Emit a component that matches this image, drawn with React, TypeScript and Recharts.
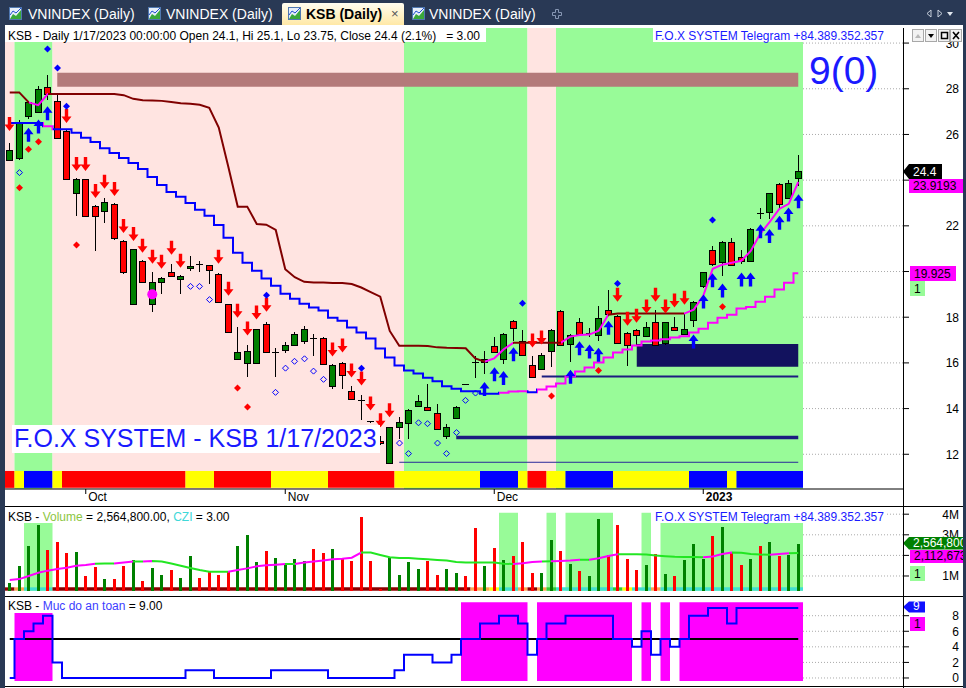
import React from "react";
import {
  ComposedChart,
  Bar,
  Line,
  XAxis,
  YAxis,
  ReferenceArea,
  ReferenceLine,
  ReferenceDot,
} from "recharts";

const FONT = "'Liberation Sans', Arial, sans-serif";

// KSB daily, 21 Sep 2022 .. 17 Jan 2023 (84 sessions)
const opens = [
  24.87, 24.96, 26.8, 26.98, 28.07, 27.46, 26.15, 23.45, 24.04, 22.87,
  22.65, 22.96, 21.34, 18.58, 20.47, 18.58, 19.52, 19.99, 19.67, 20.15,
  20.34, 20.28, 19.89, 18.58, 16.18, 15.99, 15.99, 17.71, 16.42, 16.57,
  16.79, 16.98, 17.1, 17.1, 14.98, 16.0, 14.76, 14.38, 13.45, 12.6,
  11.64, 13.19, 13.38, 14.11, 14.07, 13.82, 12.79, 13.6, 15.07, 16.03,
  16.03, 16.72, 16.18, 17.85, 16.98, 15.89, 15.74, 16.54, 18.29, 16.83,
  17.81, 17.29, 17.2, 18.32, 18.07, 17.3, 17.45, 17.17, 17.78, 16.86,
  17.56, 17.27, 17.88, 19.35, 20.94, 20.41, 21.3, 20.62, 20.44, 22.55,
  22.62, 23.82, 23.24, 24.1,
];
const highs = [
  25.64, 26.62, 27.45, 28.11, 28.59, 27.75, 26.2, 24.1, 24.06, 22.9,
  23.24, 23.0, 21.4, 21.0, 20.5, 19.96, 19.75, 20.33, 19.85, 20.69,
  20.47, 20.3, 19.95, 18.6, 17.59, 16.8, 17.5, 17.81, 16.66, 16.9,
  17.35, 17.63, 17.27, 17.12, 15.95, 16.05, 14.97, 14.58, 13.47, 12.8,
  13.2, 13.63, 13.98, 14.58, 15.06, 14.21, 13.34, 14.1, 15.09, 16.32,
  16.54, 17.12, 17.3, 17.87, 17.45, 16.32, 16.42, 17.5, 18.3, 17.25,
  17.97, 17.53, 18.51, 19.19, 18.1, 17.35, 17.5, 17.78, 18.32, 17.8,
  18.0, 18.17, 18.7, 20.0, 21.13, 21.35, 21.46, 20.95, 21.9, 22.8,
  23.45, 23.89, 24.0, 25.1,
];
const lows = [
  24.85, 24.9, 26.66, 26.95, 27.53, 25.8, 24.0, 22.44, 22.4, 20.88,
  22.14, 21.4, 19.9, 18.55, 19.5, 18.21, 19.02, 19.75, 19.02, 20.03,
  20.0, 19.45, 18.65, 17.35, 16.15, 15.38, 15.95, 16.45, 15.38, 16.45,
  16.75, 16.83, 16.32, 15.9, 14.87, 14.87, 14.4, 13.48, 13.38, 12.4,
  11.6, 12.69, 12.69, 14.05, 13.93, 13.1, 12.69, 13.58, 15.04, 15.35,
  15.52, 16.45, 15.96, 16.98, 16.3, 15.35, 15.72, 15.84, 16.78, 16.03,
  17.25, 17.12, 16.98, 18.1, 16.85, 15.86, 16.8, 17.15, 16.75, 16.8,
  17.43, 17.25, 17.59, 19.3, 20.25, 19.82, 20.25, 20.33, 20.4, 22.29,
  22.29, 22.8, 23.2, 23.75,
];
const closes = [
  25.32, 26.55, 27.43, 28.0, 27.75, 25.86, 24.04, 24.04, 22.44, 22.44,
  23.06, 21.46, 19.96, 20.98, 19.52, 19.52, 19.71, 19.79, 19.82, 20.25,
  20.32, 20.07, 18.68, 17.37, 16.47, 16.5, 17.49, 16.47, 16.49, 16.79,
  17.27, 17.49, 17.08, 15.93, 15.92, 15.49, 14.43, 14.36, 13.41, 12.5,
  13.19, 13.4, 13.95, 14.33, 13.95, 13.12, 13.19, 14.07, 15.05, 16.01,
  16.18, 16.47, 17.27, 17.53, 16.35, 15.38, 16.35, 17.45, 16.8, 17.2,
  17.27, 17.31, 17.97, 18.14, 16.88, 16.79, 17.23, 17.56, 16.79, 17.78,
  17.45, 17.49, 18.65, 19.96, 20.35, 21.31, 20.28, 20.44, 21.85, 22.52,
  23.43, 22.95, 23.86, 24.4,
];
// volume, millions of shares
const volumes = [
  0.68, 1.49, 2.47, 3.48, 2.26, 2.65, 2.1, 2.17, 1.0, 1.44,
  0.85, 0.85, 1.49, 1.78, 0.76, 1.39, 1.05, 1.29, 0.9, 1.97,
  0.9, 1.19, 1.05, 1.19, 2.46, 2.99, 1.68, 2.21, 1.87, 1.58,
  1.82, 1.73, 2.31, 2.12, 2.31, 1.82, 1.73, 3.86, 1.73, 0.36,
  1.92, 1.05, 1.68, 1.34, 1.73, 1.05, 1.34, 1.15, 1.0, 3.33,
  1.49, 2.38, 1.78, 1.97, 2.65, 1.16, 1.16, 2.75, 2.21, 1.58,
  1.24, 1.0, 3.77, 2.02, 3.48, 1.82, 1.29, 1.53, 2.08, 1.1,
  1.0, 1.78, 2.55, 1.82, 2.94, 3.38, 2.15, 1.53, 1.82, 2.46,
  2.65, 1.97, 2.02, 2.5648,
];
const volumeMA = [
  0.81, 0.85, 1.0, 1.16, 1.26, 1.34, 1.4, 1.5, 1.53, 1.6,
  1.61, 1.61, 1.65, 1.7, 1.7, 1.73, 1.7, 1.61, 1.5, 1.39,
  1.29, 1.21, 1.21, 1.21, 1.29, 1.37, 1.47, 1.52, 1.55, 1.58,
  1.58, 1.65, 1.7, 1.75, 1.81, 1.84, 1.89, 2.14, 2.14, 2.02,
  1.91, 1.87, 1.87, 1.84, 1.81, 1.78, 1.75, 1.68, 1.66, 1.65,
  1.66, 1.66, 1.6, 1.58, 1.62, 1.68, 1.7, 1.71, 1.73, 1.75,
  1.79, 1.79, 1.86, 1.97, 2.05, 2.06, 2.05, 2.04, 2.0, 1.96,
  1.93, 1.92, 1.92, 1.91, 1.95, 2.07, 2.14, 2.13, 2.07, 2.04,
  2.03, 2.07, 2.1, 2.1127,
];
// trailing stop lines
const upperStop = [
  27.84, 27.84, 27.4, 27.28, 27.77, 27.77, 27.77, 27.77, 27.77, 27.77,
  27.77, 27.77, 27.72, 27.56, 27.5, 27.49, 27.47, 27.42, 27.37, 27.34,
  27.3, 27.17, 26.3, 24.6, 22.84, 22.84, 22.08, 22.05, 21.82, 20.1,
  19.75, 19.55, 19.52, 19.52, 19.5, 19.5, 19.45, 19.3, 19.1, 18.9,
  17.4, 16.75, 16.75, 16.75, 16.74, 16.68, 16.66, 16.65, 16.64, 16.2,
  16.05, 16.2, 16.6, 16.88, 16.88, 16.88, 16.88, 16.88, 16.88, 17.15,
  17.22, 17.24, 17.41, 18.11, 18.16, 18.16, 18.16, 18.16, 18.16, 18.16,
  18.16, 18.16, 18.33, 18.94, 20.12, 20.3, 20.38, 20.47, 20.9, 21.65,
  22.17, 22.74, 22.96, 23.9193,
];
const lowerStop = [
  26.5, 26.5, 26.5, 26.5, 26.36, 26.23, 26.23, 26.07, 25.86, 25.67,
  25.4, 25.19, 24.97, 24.75, 24.49, 24.14, 23.79, 23.48, 23.27, 23.0,
  22.7, 22.44, 22.04, 21.48, 20.82, 20.38, 20.03, 19.69, 19.38, 19.03,
  18.81, 18.59, 18.42, 18.29, 17.98, 17.85, 17.55, 17.33, 17.07, 16.63,
  16.24, 15.89, 15.67, 15.54, 15.35, 15.2, 14.98, 14.87, 14.76, 14.76,
  14.65, 14.65, 14.69, 14.75, 14.76, 14.72, 14.84, 14.97, 15.1, 15.41,
  15.62, 15.8, 16.02, 16.24, 16.45, 16.59, 16.76, 16.94, 16.98, 17.04,
  17.11, 17.17, 17.33, 17.5, 17.76, 17.98, 18.11, 18.38, 18.45, 18.68,
  18.9, 19.21, 19.51, 19.925,
];
// "Muc do an toan" (safety level)
const safety = [
  0, 5, 6, 7, 8, 2, 0, 0, 0, 0,
  0, 0, 0, 0, 0, 0, 0, 0, 0, 1,
  1, 1, 0, 0, 0, 0, 0, 0, 1, 1,
  1, 1, 1, 1, 0, 0, 0, 0, 0, 0,
  0, 1, 3, 3, 3, 2, 2, 3, 5, 5,
  7, 7, 8, 8, 7, 3, 5, 7, 7, 8,
  8, 8, 8, 8, 5, 5, 4, 6, 3, 5,
  4, 5, 8, 8, 9, 9, 7, 9, 9, 9,
  9, 9, 9, 9,
];
const SAFETY_LEVEL = 5;

// signals: [bar index, price]
const sellArrows: [number, number][] = [
  [0, 26.15], [6, 26.5], [7, 24.4], [8, 24.4], [9, 23.22], [10, 23.62], [11, 23.31],
  [12, 21.69], [13, 21.34], [14, 20.82], [15, 20.34], [16, 20.12], [17, 20.73],
  [18, 20.17], [22, 20.34], [23, 18.94], [24, 17.98], [25, 17.2], [26, 17.9],
  [27, 18.24], [34, 16.28], [35, 16.45], [36, 15.36], [37, 15.01], [38, 13.92],
  [39, 13.18], [40, 13.62], [55, 16.67], [56, 16.8], [64, 18.68], [65, 17.63],
  [66, 17.76], [67, 18.16], [68, 18.68], [69, 18.16], [70, 18.42], [71, 18.55],
];
const buyArrows: [number, number][] = [
  [2, 26.29], [3, 26.66], [4, 27.24], [50, 15.16], [51, 15.81], [52, 15.64],
  [53, 16.69], [59, 15.7], [60, 16.95], [61, 16.8], [62, 16.66], [63, 17.85],
  [72, 17.24], [73, 18.99], [74, 19.92], [75, 19.48], [77, 19.96], [78, 19.96],
  [79, 22.07], [80, 21.86], [81, 22.44], [82, 22.8], [83, 23.38],
];
const redDiamonds: [number, number][] = [
  [1, 23.67], [2, 25.35], [3, 25.68], [7, 21.16], [24, 14.9], [25, 14.07],
  [57, 14.55], [62, 15.67], [75, 18.46],
];
const blueDiamonds: [number, number][] = [
  [4, 29.74], [5, 28.91], [6, 27.24], [27, 18.96], [37, 15.77], [54, 18.61],
  [64, 19.48], [74, 22.26],
];
const hollowDiamonds: [number, number][] = [
  [1, 24.33], [19, 19.35], [20, 19.35], [21, 18.77], [28, 14.71], [29, 15.77],
  [30, 16.07], [31, 16.18], [32, 15.64], [33, 15.28], [41, 12.49], [42, 12.03],
  [43, 13.38], [44, 13.34], [45, 12.49], [46, 12.03], [47, 12.95], [48, 14.36],
  [49, 14.68],
];
const magentaDots: [number, number][] = [[15, 19.0]];

// bar runs [from, to, code]
const backgroundRuns: [number, number, string][] = [
  [0, 0, "P"], [1, 4, "G"], [5, 41, "P"], [42, 54, "G"], [55, 57, "P"], [58, 83, "G"],
];
const trendStripRuns: [number, number, string][] = [
  [0, 0, "R"], [1, 1, "Y"], [2, 4, "B"], [5, 5, "Y"], [6, 18, "R"], [19, 21, "Y"],
  [22, 27, "R"], [28, 33, "Y"], [34, 40, "R"], [41, 49, "Y"], [50, 53, "B"],
  [54, 54, "Y"], [55, 56, "R"], [57, 58, "Y"], [59, 63, "B"], [64, 71, "Y"],
  [72, 75, "B"], [76, 76, "Y"], [77, 83, "B"],
];
const upperColorRuns: [number, number, string][] = [
  [0, 2, "M"], [3, 4, "P"], [5, 50, "M"], [51, 53, "P"], [54, 58, "M"],
  [59, 63, "P"], [64, 71, "M"], [72, 83, "P"],
];
const lowerColorRuns: [number, number, string][] = [
  [0, 3, "B"], [4, 4, "P"], [5, 51, "B"], [52, 54, "P"], [55, 55, "B"], [56, 83, "P"],
];
const volumeZoneRuns: [number, number][] = [
  [2, 4], [52, 53], [57, 57], [59, 63], [67, 67], [69, 83],
];
const volumeStripRuns: [number, number, string][] = [
  [0, 0, "D"], [1, 1, "O"], [2, 4, "C"], [5, 48, "D"], [49, 50, "O"], [51, 51, "Y"],
  [52, 53, "C"], [54, 54, "O"], [55, 55, "D"], [56, 56, "O"], [57, 57, "G"],
  [58, 63, "C"], [64, 64, "G"], [65, 65, "Y"], [66, 67, "C"], [68, 68, "O"],
  [69, 83, "C"],
];

// resistance band, support box and support levels
const bandFrom = 5;
const bandLevels: [number, number] = [28.09, 28.7];
const boxFrom = 66;
const boxLevels: [number, number] = [15.83, 16.83];
const supportStarts = [56, 47, 41];
const supportLevels = [15.4, 12.73, 11.65];

const monthTicks = [8, 29, 51, 73];
const monthLabels = ["Oct", "Nov", "Dec", "2023"];
const priceTicks = [12, 14, 16, 18, 20, 22, 24, 26, 28, 30];
const volumeTicks = [1, 2, 3, 4];
const safetyTicks = [0, 2, 4, 6, 8];
// tick labels sitting under the value tags on the right
const coveredPrice = [20, 24];
const coveredVolume = [2];

const C: Record<string, string> = {
  P: "#ffe4e1",
  G: "#98fb98",
  R: "#ff0000",
  Y: "#ffff00",
  B: "#0000ff",
};
const LINE_C: Record<string, string> = { M: "#800000", P: "#ff00ff", B: "#0000ff" };
const VSTRIP_C: Record<string, string> = {
  D: "#8b0000",
  O: "#ffa54f",
  C: "#40e0d0",
  Y: "#ffff00",
  G: "#32cd32",
};
const BLUE_TEXT = "#1a1aff";

// layout
const CHART_W = 958;
const AXIS_W = 60;
const PLOT_W = CHART_W - AXIS_W;
const BAR_STEP = 9.5;
const X_MIN = -0.5;
const X_MAX = X_MIN + PLOT_W / BAR_STEP;
const MAIN_DOMAIN: [number, number] = [10.48, 30.66];
const VOL_DOMAIN: [number, number] = [0.029, 4.398];
const SAFE_DOMAIN: [number, number] = [-1.03, 10.53];
const VOL_FLOOR = 0.286;

const N = opens.length;
const LAST = N - 1;

function expand(runs: [number, number, string][]): string[] {
  const out: string[] = new Array(N).fill("");
  runs.forEach(([a, b, c]) => {
    for (let k = a; k <= b; k++) out[k] = c;
  });
  return out;
}

function runsOf(flags: boolean[]): [number, number][] {
  const out: [number, number][] = [];
  let start = -1;
  flags.forEach((f, k) => {
    if (f && start < 0) start = k;
    if (!f && start >= 0) {
      out.push([start, k - 1]);
      start = -1;
    }
  });
  if (start >= 0) out.push([start, flags.length - 1]);
  return out;
}

type Span = [number, number, string];
function stops(spans: Span[]) {
  return spans.flatMap(([a, b, c], k) => [
    <stop key={`a${k}`} offset={a / LAST} stopColor={c} />,
    <stop key={`b${k}`} offset={b / LAST} stopColor={c} />,
  ]);
}

const upperColors = expand(upperColorRuns);
const lowerColors = expand(lowerColorRuns);
const upperSpans: Span[] = upperColors
  .slice(1)
  .map((c, k) => [k, k + 1, LINE_C[c]] as Span);
const lowerSpans: Span[] = lowerColors.map(
  (c, k) => [Math.max(0, k - 0.5), Math.min(LAST, k + 0.5), LINE_C[c]] as Span
);
const maSpans: Span[] = volumeMA
  .slice(1)
  .map(
    (v, k) =>
      [k, k + 1, v - volumeMA[k] > 0.015 ? "#ff00ff" : "#22e622"] as Span
  );

type Row = {
  i: number;
  open: number;
  high: number;
  low: number;
  close: number;
  hl: [number, number];
  upper: number;
  lower: number;
  vol: [number, number];
  volMA: number;
  up: boolean;
  safety: number;
  level: number;
  sell: number | null;
  buy: number | null;
  redD: number | null;
  blueD: number | null;
  ring: number | null;
};

const rows: Row[] = opens.map((o, i) => ({
  i,
  open: o,
  high: highs[i],
  low: lows[i],
  close: closes[i],
  hl: [lows[i], highs[i]],
  upper: upperStop[i],
  lower: lowerStop[i],
  vol: [VOL_FLOOR, volumes[i]],
  volMA: volumeMA[i],
  up: closes[i] >= opens[i],
  safety: safety[i],
  level: SAFETY_LEVEL,
  sell: null,
  buy: null,
  redD: null,
  blueD: null,
  ring: null,
}));
sellArrows.forEach(([i, v]) => (rows[i].sell = v));
buyArrows.forEach(([i, v]) => (rows[i].buy = v));
redDiamonds.forEach(([i, v]) => (rows[i].redD = v));
blueDiamonds.forEach(([i, v]) => (rows[i].blueD = v));
hollowDiamonds.forEach(([i, v]) => (rows[i].ring = v));

const safeZones = runsOf(safety.map((v) => v >= SAFETY_LEVEL));

// ---------- shapes ----------
function Candle(props: any) {
  const { x, y, width, height, payload, index } = props;
  if (y == null || height == null) return <g key={`c${index}`} />;
  const { open, close, high, low } = payload as Row;
  const k = height / (high - low);
  const cx = Math.floor(x + width / 2) + 0.5;
  const yO = y + (high - open) * k;
  const yC = y + (high - close) * k;
  const top = Math.round(Math.min(yO, yC)) + 0.5;
  const bot = Math.round(Math.max(yO, yC)) + 0.5;
  return (
    <g key={`c${index}`} shapeRendering="crispEdges">
      <line x1={cx} x2={cx} y1={Math.round(y)} y2={Math.round(y + height)} stroke="#000" />
      {bot - top < 1.5 ? (
        <line x1={cx - 3.5} x2={cx + 3.5} y1={top} y2={top} stroke="#000" />
      ) : (
        <rect
          x={cx - 3}
          y={top}
          width={6}
          height={bot - top}
          fill={close >= open ? "#008000" : "#ff0000"}
          stroke="#000"
        />
      )}
    </g>
  );
}

function VolumeBar(props: any) {
  const { x, y, width, height, payload, index } = props;
  if (y == null || height == null) return <g key={`v${index}`} />;
  const cx = Math.floor(x + width / 2);
  return (
    <rect
      key={`v${index}`}
      x={cx - 1}
      y={y}
      width={3}
      height={height}
      fill={(payload as Row).up ? "#008000" : "#ff0000"}
      shapeRendering="crispEdges"
    />
  );
}

function marker(kind: string) {
  return (p: any) => {
    const { cx, cy, value, index } = p;
    const key = `${kind}${index}`;
    if (value == null || cy == null || cx == null) return <g key={key} />;
    const x = Math.floor(cx) + 0.5;
    if (kind === "sell")
      return (
        <path
          key={key}
          d={`M${x} ${cy} L${x - 5} ${cy - 6.5} L${x - 1.7} ${cy - 6.5} L${x - 1.7} ${cy - 14} L${x + 1.7} ${cy - 14} L${x + 1.7} ${cy - 6.5} L${x + 5} ${cy - 6.5} Z`}
          fill="#ff0000"
        />
      );
    if (kind === "buy")
      return (
        <path
          key={key}
          d={`M${x} ${cy} L${x - 5} ${cy + 6.5} L${x - 1.7} ${cy + 6.5} L${x - 1.7} ${cy + 14} L${x + 1.7} ${cy + 14} L${x + 1.7} ${cy + 6.5} L${x + 5} ${cy + 6.5} Z`}
          fill="#0000ff"
        />
      );
    const r = kind === "ring" ? 3 : 3.5;
    return (
      <path
        key={key}
        d={`M${x} ${cy - r} L${x + r} ${cy} L${x} ${cy + r} L${x - r} ${cy} Z`}
        fill={kind === "ring" ? "none" : kind === "redD" ? "#ff0000" : "#0000ff"}
        stroke={kind === "ring" ? "#0000ff" : "none"}
        strokeWidth={1}
      />
    );
  };
}

const tickText = (label: (v: number) => string, covered: number[] = []) => (p: any) => (
  <text
    x={954}
    y={p.y}
    dy={4.5}
    textAnchor="end"
    fontSize={12}
    fontFamily={FONT}
    fill="#000"
  >
    {covered.includes(p.payload.value) ? "" : label(p.payload.value)}
  </text>
);

function MonthTick(p: any) {
  const k = monthTicks.indexOf(p.payload.value);
  return (
    <text
      x={p.x + 2.5}
      y={473}
      fontSize={12}
      fontFamily={FONT}
      fontWeight={k === 3 ? "bold" : "normal"}
      fill="#000"
    >
      {monthLabels[k]}
    </text>
  );
}

const dottedGrid = (ticks: number[]) =>
  ticks.map((t) => (
    <ReferenceLine
      key={`g${t}`}
      segment={[
        { x: LAST + 0.5, y: t },
        { x: X_MAX, y: t },
      ]}
      stroke="#aaaaaa"
      strokeDasharray="1 2"
      ifOverflow="hidden"
    />
  ));

const ZERO = { top: 0, right: 0, bottom: 0, left: 0 };

function MainPane() {
  return (
    <ComposedChart width={CHART_W} height={478} data={rows} margin={ZERO}>
      <defs>
        <linearGradient id="upperGrad" x1="0" y1="0" x2="1" y2="0">
          {stops(upperSpans)}
        </linearGradient>
        <linearGradient id="lowerGrad" x1="0" y1="0" x2="1" y2="0">
          {stops(lowerSpans)}
        </linearGradient>
      </defs>
      <XAxis
        dataKey="i"
        type="number"
        domain={[X_MIN, X_MAX]}
        allowDataOverflow
        ticks={monthTicks}
        interval={0}
        height={17}
        axisLine={{ stroke: "#000" }}
        tickLine={{ stroke: "#000" }}
        tickSize={5}
        tick={MonthTick}
      />
      <YAxis
        orientation="right"
        type="number"
        domain={MAIN_DOMAIN}
        allowDataOverflow
        ticks={priceTicks}
        interval={0}
        width={AXIS_W}
        axisLine={false}
        tickLine={{ stroke: "#000" }}
        tickSize={6}
        tick={tickText((v) => String(v), coveredPrice)}
      />
      {backgroundRuns.map(([a, b, c]) => (
        <ReferenceArea
          key={`bg${a}`}
          x1={a - 0.5}
          x2={b + 0.5}
          y1={MAIN_DOMAIN[0]}
          y2={MAIN_DOMAIN[1]}
          fill={C[c]}
          fillOpacity={1}
          stroke="none"
          ifOverflow="hidden"
        />
      ))}
      <ReferenceArea
        x1={bandFrom}
        x2={LAST}
        y1={bandLevels[0]}
        y2={bandLevels[1]}
        fill="#b47a7a"
        fillOpacity={1}
        stroke="none"
      />
      {trendStripRuns.map(([a, b, c]) => (
        <ReferenceArea
          key={`st${a}`}
          x1={a - 0.5}
          x2={b + 0.5}
          y1={10.53}
          y2={11.27}
          fill={C[c]}
          fillOpacity={1}
          stroke="none"
          ifOverflow="hidden"
        />
      ))}
      <ReferenceArea
        x1={boxFrom}
        x2={LAST}
        y1={boxLevels[0]}
        y2={boxLevels[1]}
        fill="#12125e"
        fillOpacity={1}
        stroke="none"
      />
      {supportLevels.map((lv, k) => (
        <ReferenceLine
          key={`sl${k}`}
          segment={[
            { x: supportStarts[k], y: lv },
            { x: LAST, y: lv },
          ]}
          stroke={k === 2 ? "#2a2a9a" : "#1c1c80"}
          strokeWidth={[2, 3.5, 1][k]}
        />
      ))}
      {dottedGrid(priceTicks)}
      <Bar dataKey="hl" barSize={9} shape={Candle} isAnimationActive={false} />
      <Line
        dataKey="upper"
        type="linear"
        stroke="url(#upperGrad)"
        strokeWidth={2}
        dot={false}
        activeDot={false}
        isAnimationActive={false}
      />
      <Line
        dataKey="lower"
        type="step"
        stroke="url(#lowerGrad)"
        strokeWidth={2}
        dot={false}
        activeDot={false}
        isAnimationActive={false}
      />
      {magentaDots.map(([i, v]) => (
        <ReferenceDot key={`md${i}`} x={i} y={v} r={5} fill="#ff00ff" stroke="none" />
      ))}
      {["sell", "buy", "redD", "blueD", "ring"].map((k) => (
        <Line
          key={k}
          dataKey={k}
          stroke="none"
          dot={marker(k)}
          activeDot={false}
          isAnimationActive={false}
        />
      ))}
    </ComposedChart>
  );
}

function VolumePane() {
  return (
    <ComposedChart width={CHART_W} height={90} data={rows} margin={ZERO}>
      <defs>
        <linearGradient id="maGrad" x1="0" y1="0" x2="1" y2="0">
          {stops(maSpans)}
        </linearGradient>
      </defs>
      <XAxis dataKey="i" type="number" domain={[X_MIN, X_MAX]} allowDataOverflow hide />
      <YAxis
        orientation="right"
        type="number"
        domain={VOL_DOMAIN}
        allowDataOverflow
        ticks={volumeTicks}
        interval={0}
        width={AXIS_W}
        axisLine={false}
        tickLine={{ stroke: "#000" }}
        tickSize={6}
        tick={tickText((v) => `${v}M`, coveredVolume)}
      />
      {volumeZoneRuns.map(([a, b]) => (
        <ReferenceArea
          key={`vz${a}`}
          x1={a - 0.5}
          x2={b + 0.5}
          y1={VOL_FLOOR}
          y2={4.07}
          fill={C.G}
          fillOpacity={1}
          stroke="none"
        />
      ))}
      {dottedGrid(volumeTicks)}
      <Bar dataKey="vol" barSize={3} shape={VolumeBar} isAnimationActive={false} />
      {volumeStripRuns.map(([a, b, c]) => (
        <ReferenceArea
          key={`vs${a}`}
          x1={a - 0.5}
          x2={b + 0.5}
          y1={VOL_FLOOR}
          y2={0.45}
          fill={VSTRIP_C[c]}
          fillOpacity={1}
          stroke="none"
          ifOverflow="hidden"
        />
      ))}
      <Line
        dataKey="volMA"
        type="linear"
        stroke="url(#maGrad)"
        strokeWidth={2}
        dot={false}
        activeDot={false}
        isAnimationActive={false}
      />
    </ComposedChart>
  );
}

function SafetyPane() {
  return (
    <ComposedChart width={CHART_W} height={90} data={rows} margin={ZERO}>
      <XAxis dataKey="i" type="number" domain={[X_MIN, X_MAX]} allowDataOverflow hide />
      <YAxis
        orientation="right"
        type="number"
        domain={SAFE_DOMAIN}
        allowDataOverflow
        ticks={safetyTicks}
        interval={0}
        width={AXIS_W}
        axisLine={false}
        tickLine={{ stroke: "#000" }}
        tickSize={6}
        tick={tickText((v) => String(v))}
      />
      {safeZones.map(([a, b]) => (
        <ReferenceArea
          key={`sz${a}`}
          x1={a - 0.5}
          x2={b + 0.5}
          y1={-0.38}
          y2={9.72}
          fill="#ff00ff"
          fillOpacity={1}
          stroke="none"
        />
      ))}
      {dottedGrid(safetyTicks)}
      <Line
        dataKey="level"
        type="linear"
        stroke="#000"
        strokeWidth={2}
        dot={false}
        activeDot={false}
        isAnimationActive={false}
      />
      <Line
        dataKey="safety"
        type="step"
        stroke="#0000ff"
        strokeWidth={2}
        dot={false}
        activeDot={false}
        isAnimationActive={false}
      />
    </ComposedChart>
  );
}

// ---------- chrome ----------
function TabIcon({ x }: { x: number }) {
  return (
    <g transform={`translate(${x},7)`}>
      <rect x={0.5} y={0.5} width={12} height={12} fill="#e6eef8" stroke="#5078b0" />
      <path d="M1 12 L4 7 L7 9 L12 3 L12 12 Z" fill="#3aa83a" />
      <path d="M1 8 L4 4 L7 6 L12 1" stroke="#2050d0" fill="none" />
    </g>
  );
}

function Tag(props: {
  x: number;
  y: number;
  w: number;
  h: number;
  fill: string;
  color: string;
  text: string;
  arrow?: boolean;
}) {
  const { x, y, w, h, fill, color, text, arrow } = props;
  return (
    <g>
      {arrow && <path d={`M903 ${y + h / 2} L${x} ${y} L${x} ${y + h} Z`} fill={fill} />}
      <rect x={x} y={y} width={w} height={h} fill={fill} />
      <text x={x + 4} y={y + h - 3} fontSize={12} fill={color}>
        {text}
      </text>
    </g>
  );
}

function Chrome() {
  const tabs = [
    { icon: 9, text: 28 },
    { icon: 148, text: 166 },
    { icon: 412, text: 429 },
  ];
  return (
    <svg width={966} height={688} style={{ position: "absolute", left: 0, top: 0 }}>
      <defs>
        <linearGradient id="tabGrad" x1="0" y1="0" x2="0" y2="1">
          <stop offset="0" stopColor="#fffdf0" />
          <stop offset="1" stopColor="#ffe8a6" />
        </linearGradient>
      </defs>
      <rect width={966} height={688} fill="#293955" />
      <rect x={5} y={25} width={958} height={663} fill="#ffffff" />
      <path d="M282 25 V5 Q282 3 284 3 H402 Q404 3 404 5 V25 Z" fill="url(#tabGrad)" />
      <g fontFamily={FONT} fontSize={14}>
        {tabs.map((t) => (
          <g key={t.icon}>
            <TabIcon x={t.icon} />
            <text x={t.text} y={18.5} fill="#ffffff">
              VNINDEX (Daily)
            </text>
          </g>
        ))}
        <TabIcon x={288} />
        <text x={306} y={18.5} fill="#000" fontWeight="bold">
          KSB (Daily)
        </text>
        <text x={391} y={18} fill="#555" fontSize={13}>
          ×
        </text>
      </g>
      <path
        d="M555.5 9.5 h3 v3 h3 v3 h-3 v3 h-3 v-3 h-3 v-3 h3 Z"
        fill="none"
        stroke="#8797b3"
      />
      <path d="M931 10 L927 13.5 L931 17 Z" fill="none" stroke="#c8d0dc" />
      <path d="M938 10 L942 13.5 L938 17 Z" fill="none" stroke="#c8d0dc" />
      <path d="M947 12 L953 12 L950 16 Z" fill="#e0e6ee" />
    </svg>
  );
}

function Overlay() {
  const btn = (x: number, glyph: React.ReactNode) => (
    <g key={x}>
      <rect x={x + 0.5} y={29.5} width={11} height={12} fill="#f2f2f2" stroke="#a8a8a8" />
      {glyph}
    </g>
  );
  return (
    <svg
      width={966}
      height={688}
      style={{ position: "absolute", left: 0, top: 0, pointerEvents: "none" }}
      fontFamily={FONT}
    >
      {/* main pane captions */}
      <rect x={5} y={28} width={481} height={14} fill="#fff" />
      <text x={8} y={39.5} fontSize={12} fill="#000" xmlSpace="preserve" style={{ whiteSpace: "pre" }}>
        KSB - Daily 1/17/2023 00:00:00 Open 24.1, Hi 25.1, Lo 23.75, Close 24.4 (2.1%)   = 3.00
      </text>
      <rect x={653} y={28} width={234} height={14} fill="#fff" />
      <text x={655} y={39.5} fontSize={12} fill={BLUE_TEXT}>
        F.O.X SYSTEM Telegram +84.389.352.357
      </text>
      <text x={809} y={83.5} fontSize={39} fill={BLUE_TEXT}>
        9(0)
      </text>
      <rect x={12} y={425} width={368} height={28} fill="#fff" />
      <text x={14} y={447} fontSize={25} fill={BLUE_TEXT}>
        F.O.X SYSTEM - KSB 1/17/2023
      </text>
      {btn(912, <path d="M915 38 L918 34 L921 38 Z" fill="#b8b8b8" />)}
      {btn(925, <path d="M928 34 L934 34 L931 38 Z" fill="#000" />)}
      {btn(938, <rect x={941.5} y={32.5} width={6} height={6} fill="none" stroke="#000" strokeWidth={1.5} />)}
      {btn(950, <path d="M953 32 L959 39 M959 32 L953 39" stroke="#000" strokeWidth={1.6} />)}

      <Tag x={909} y={164} w={33} h={15} fill="#000" color="#fff" text="24.4" arrow />
      <Tag x={909} y={179} w={54} h={14} fill="#ff00ff" color="#000" text="23.9193" />
      <Tag x={910} y={266} w={46} h={15} fill="#ff00ff" color="#000" text="19.925" />
      <Tag x={910} y={281} w={15} h={15} fill="#98fb98" color="#000" text="1" />

      {/* volume pane captions */}
      <rect x={5} y={507} width={227} height={16} fill="#fff" />
      <text x={8} y={520.5} fontSize={12} fill="#000" xmlSpace="preserve" style={{ whiteSpace: "pre" }}>
        KSB - <tspan fill="#8cc63f">Volume</tspan> = 2,564,800.00, <tspan fill="#40d8d8">CZI</tspan> = 3.00
      </text>
      <rect x={653} y={507} width={234} height={16} fill="#fff" />
      <text x={655} y={520.5} fontSize={12} fill={BLUE_TEXT}>
        F.O.X SYSTEM Telegram +84.389.352.357
      </text>
      <Tag x={909} y={537} w={54} h={12.5} fill="#008000" color="#fff" text="2,564,800" arrow />
      <Tag x={910} y={550} w={53} h={13} fill="#ff00ff" color="#000" text="2,112,673" />
      <Tag x={910} y={566} w={15} h={15} fill="#98fb98" color="#000" text="1" />

      {/* safety pane captions */}
      <rect x={5} y={597} width={161} height={16} fill="#fff" />
      <text x={8} y={610} fontSize={12} fill="#000" xmlSpace="preserve" style={{ whiteSpace: "pre" }}>
        KSB - <tspan fill="#3c3cff">Muc do an toan</tspan> = 9.00
      </text>
      <Tag x={909} y={601.5} w={16} h={11} fill="#1010ff" color="#fff" text="9" arrow />
      <Tag x={910} y={617} w={15} h={14} fill="#ff00ff" color="#000" text="1" />

      {/* pane borders and price axis */}
      <g shapeRendering="crispEdges" stroke="#000">
        <line x1={5} x2={963} y1={506.5} y2={506.5} />
        <line x1={5} x2={963} y1={596.5} y2={596.5} />
        <line x1={5} x2={963} y1={686.5} y2={686.5} />
        <line x1={903.5} x2={903.5} y1={28} y2={688} />
      </g>
      <rect x={0} y={25} width={5} height={663} fill="#293955" />
      <rect x={963} y={25} width={3} height={663} fill="#293955" />
    </svg>
  );
}

export default function App() {
  return (
    <div
      style={{
        position: "absolute",
        left: 0,
        top: 0,
        width: 966,
        height: 688,
        overflow: "hidden",
        fontFamily: FONT,
      }}
    >
      <Chrome />
      <div style={{ position: "absolute", left: 5, top: 28 }}>
        <MainPane />
      </div>
      <div style={{ position: "absolute", left: 5, top: 506 }}>
        <VolumePane />
      </div>
      <div style={{ position: "absolute", left: 5, top: 596 }}>
        <SafetyPane />
      </div>
      <Overlay />
    </div>
  );
}
